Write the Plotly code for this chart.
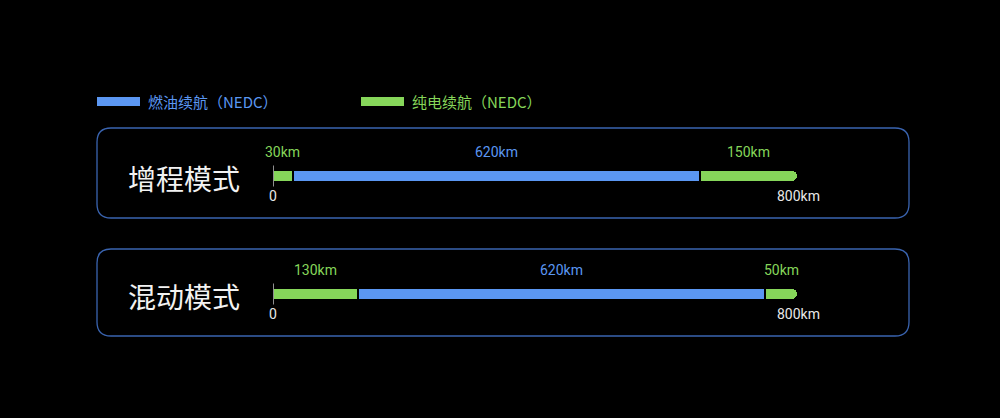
import plotly.graph_objects as go

# range data for the two modes
modes = ["增程模式", "混动模式"]
ev_start = [30, 130]      # 纯电 km before the fuel part
fuel = [620, 620]         # 燃油 km
ev_end = [150, 50]        # 纯电 km after the fuel part
axis_max = 800
legend_names = ["燃油续航（NEDC）", "纯电续航（NEDC）"]

BLUE = "#5b97f2"
GREEN = "#86d65a"
BORDER = "#3a64b0"
W, H = 1000, 418
NUM_FONT = "Roboto, Noto Sans CJK SC, sans-serif"
CJK_FONT = "Noto Sans CJK SC, sans-serif"


def px(x):
    return x / W


def py(y):
    return 1 - y / H


def round_rect(x0, y0, x1, y1, r):
    # rounded rect path in paper coords, built from pixel values
    rx, ry = r / W, r / H
    a, b, c, d = px(x0), py(y0), px(x1), py(y1)
    return (f"M {a + rx},{b} L {c - rx},{b} Q {c},{b} {c},{b - ry} "
            f"L {c},{d + ry} Q {c},{d} {c - rx},{d} L {a + rx},{d} "
            f"Q {a},{d} {a},{d + ry} L {a},{b - ry} Q {a},{b} {a + rx},{b} Z")


fig = go.Figure()

segments = [(ev_start, GREEN), (fuel, BLUE), (ev_end, GREEN)]
for vals, col in segments:
    fig.add_trace(go.Bar(
        y=modes, x=vals, orientation="h",
        marker=dict(color=col, line=dict(color="black", width=2), cornerradius=6),
        width=0.1, hoverinfo="x", showlegend=False,
    ))

# zero tick
fig.add_trace(go.Scatter(
    x=[0] * len(modes), y=modes, mode="markers",
    marker=dict(symbol="line-ns", size=15, line=dict(color="#a0a0a0", width=1.8)),
    hoverinfo="skip", showlegend=False,
))

annotations = []
for i, m in enumerate(modes):
    start = 0
    for vals, col in segments:
        v = vals[i]
        annotations.append(dict(
            x=start + v / 2, y=m, xref="x", yref="y", text=f"{v}km",
            showarrow=False, yshift=24, xanchor="center", yanchor="middle",
            font=dict(size=14, color=col, family=NUM_FONT),
        ))
        start += v
    annotations.append(dict(x=0, y=m, xref="x", yref="y", text="0", showarrow=False,
                            yshift=-20, xanchor="center", yanchor="middle",
                            font=dict(size=14, color="#e8e8e8", family=NUM_FONT)))
    annotations.append(dict(x=axis_max, y=m, xref="x", yref="y", text=f"{axis_max}km",
                            showarrow=False, yshift=-20, xanchor="center", yanchor="middle",
                            font=dict(size=14, color="#e8e8e8", family=NUM_FONT)))
    annotations.append(dict(x=px(184), y=m, xref="paper", yref="y", text=m, showarrow=False,
                            yshift=-2, xanchor="center", yanchor="middle",
                            font=dict(size=28, color="#f2f2f2", family=CJK_FONT)))

# legend built by hand (long flat swatches)
shapes = []
for name, col, x0 in zip(legend_names, [BLUE, GREEN], [97, 361]):
    shapes.append(dict(type="rect", xref="paper", yref="paper", x0=px(x0), x1=px(x0 + 43),
                       y0=py(106), y1=py(97), fillcolor=col, line=dict(width=0)))
    annotations.append(dict(x=px(x0 + 49), y=py(101.5), xref="paper", yref="paper", text=name,
                            showarrow=False, xanchor="left", yanchor="middle",
                            font=dict(size=15, color=col, family=CJK_FONT)))

for y0, y1 in [(128, 218), (249, 336)]:
    shapes.append(dict(type="path", xref="paper", yref="paper", path=round_rect(97, y0, 909, y1, 14),
                       line=dict(color=BORDER, width=1.3), layer="below"))

fig.update_layout(
    width=W, height=H, barmode="stack",
    paper_bgcolor="black", plot_bgcolor="black",
    margin=dict(l=0, r=0, t=0, b=0),
    xaxis=dict(range=[0, axis_max], domain=[px(273), px(798)], visible=False, fixedrange=True),
    yaxis=dict(range=[1.5, -0.5], domain=[py(353), py(117)], visible=False, fixedrange=True),
    shapes=shapes, annotations=annotations,
)

fig.write_html("out.html", config={"displayModeBar": False},
               post_script="document.body.style.margin='0';")
